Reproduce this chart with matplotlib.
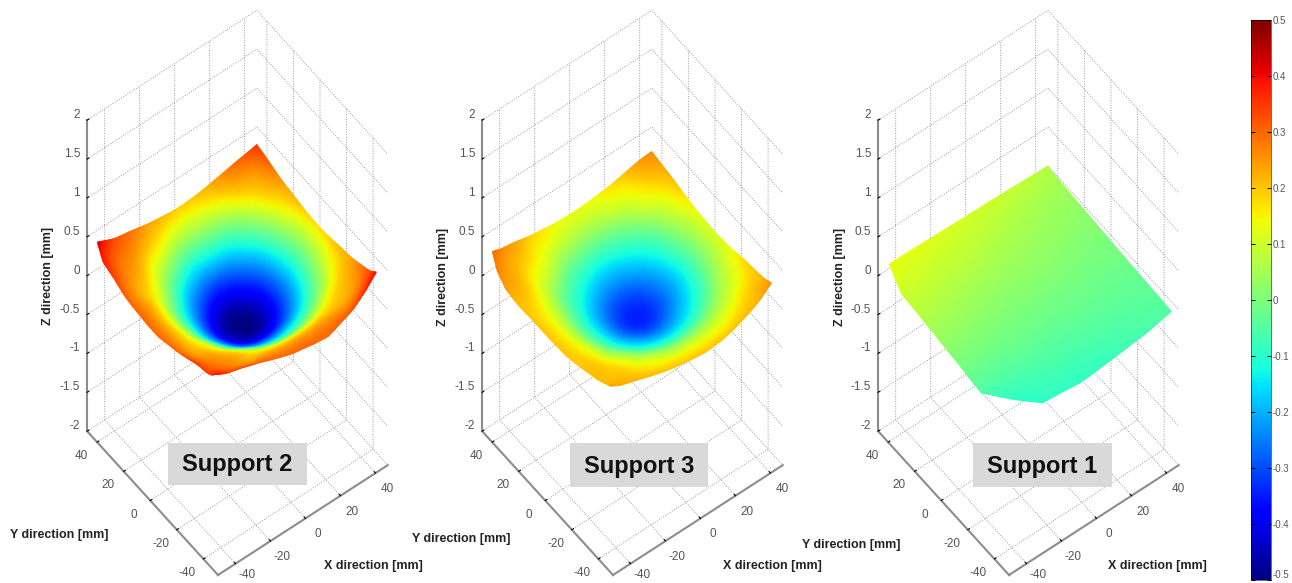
import matplotlib
matplotlib.use('Agg')
import matplotlib.pyplot as plt
import numpy as np
from matplotlib.cm import ScalarMappable
from matplotlib.colors import Normalize
from matplotlib.patches import Rectangle
from matplotlib.tri import Triangulation, UniformTriRefiner
from mpl_toolkits.mplot3d import proj3d

plt.rcParams['font.family'] = ['Liberation Sans', 'DejaVu Sans']

W, H = 1292, 583

# measuring grid [mm] of the two bowls, the first row/column is the sheet edge (edge arrays below)
grid_mm = [-46, -42, -36, -27, -18, -9, 0, 9, 18, 27, 36, 45]

# deflection [mm], rows run from the front edge to y=45, columns from the left edge to x=45
support2_z = [
    [.39, .36, .34, .32, .30, .30, .30, .30, .31, .33, .37, .40],
    [.36, .33, .285, .235, .21, .18, .165, .17, .195, .215, .265, .35],
    [.35, .29, .26, .21, .13, .065, .03, .04, .10, .175, .225, .295],
    [.33, .245, .21, .105, -.015, -.115, -.16, -.14, -.07, .05, .17, .24],
    [.30, .21, .15, 0, -.155, -.275, -.33, -.31, -.215, -.075, .09, .215],
    [.30, .20, .105, -.08, -.25, -.39, -.46, -.44, -.32, -.155, .03, .185],
    [.30, .195, .09, -.10, -.28, -.43, -.495, -.475, -.35, -.18, .005, .175],
    [.30, .21, .115, -.065, -.23, -.37, -.445, -.41, -.30, -.14, .035, .19],
    [.31, .22, .165, .03, -.13, -.24, -.30, -.275, -.185, -.05, .11, .22],
    [.34, .26, .225, .125, .02, -.085, -.115, -.10, -.04, .08, .19, .25],
    [.38, .30, .275, .22, .16, .095, .07, .085, .13, .205, .24, .305],
    [.42, .38, .325, .285, .24, .21, .19, .20, .23, .27, .31, .35],
]
support2_left_edge = [-46, -47, -48, -49.5, -50.5, -52, -52, -51.5, -51, -50, -49.5, -46]
support2_front_edge = [-44, -45, -46, -48, -50.5, -53.5, -55, -56, -54, -52, -49, -45]

support3_z = [
    [.24, .23, .22, .21, .20, .20, .20, .20, .20, .21, .22, .26],
    [.22, .21, .20, .16, .125, .095, .085, .09, .115, .155, .20, .235],
    [.21, .20, .18, .12, .07, .02, 0, .015, .055, .105, .165, .205],
    [.20, .18, .125, .05, -.04, -.105, -.13, -.115, -.06, .03, .11, .185],
    [.20, .15, .085, -.035, -.135, -.205, -.24, -.215, -.15, -.055, .065, .15],
    [.20, .13, .05, -.08, -.19, -.28, -.325, -.295, -.21, -.105, .025, .125],
    [.20, .125, .045, -.09, -.20, -.30, -.345, -.315, -.23, -.12, .015, .12],
    [.20, .135, .065, -.06, -.165, -.25, -.29, -.265, -.19, -.085, .035, .135],
    [.21, .165, .10, -.01, -.095, -.16, -.19, -.17, -.115, -.03, .085, .16],
    [.24, .20, .145, .085, -.005, -.05, -.075, -.06, -.015, .07, .135, .20],
    [.27, .225, .20, .15, .105, .07, .055, .065, .10, .14, .195, .23],
    [.30, .27, .245, .20, .165, .14, .13, .14, .16, .195, .24, .26],
]
support3_left_edge = [-46, -46, -48, -49.5, -51, -51.4, -51.5, -51.5, -52, -52, -50, -46]
support3_front_edge = [-44, -46, -47.5, -50, -52, -53.5, -54.5, -54, -52.5, -50.5, -48, -45]

# almost flat, coarser grid is enough
support1_x = [-50, -30, -10, 10, 30, 45]
support1_y = [-50, -30, -10, 10, 30, 45]
support1_z = [
    [-.09, -.095, -.09, -.08, -.06, -.05],
    [-.05, -.05, -.045, -.04, -.035, -.03],
    [.005, 0, -.005, -.005, -.01, -.01],
    [.055, .045, .035, .03, .02, .015],
    [.10, .09, .08, .065, .05, .04],
    [.13, .125, .11, .10, .085, .07],
]
support1_left_edge = [-40, -50, -50, -50, -50, -45.5]
support1_front_edge = [-40, -50, -52, -51, -50, -48]

panel_names = ['Support 2', 'Support 3', 'Support 1']
xy_ticks = [-40, -20, 0, 20, 40]
z_ticks = [-2, -1.5, -1, -0.5, 0, 0.5, 1, 1.5, 2]
z_tick_labels = ['-2', '-1.5', '-1', '-0.5', '0', '0.5', '1', '1.5', '2']
bar_ticks = [-0.5, -0.4, -0.3, -0.2, -0.1, 0, 0.1, 0.2, 0.3, 0.4, 0.5]
bar_tick_labels = ['-0.5', '-0.4', '-0.3', '-0.2', '-0.1', '0', '0.1', '0.2', '0.3', '0.4', '0.5']

x_lim = (-50, 47)
y_lim = (-51, 47.5)
z_lim = (-2, 2)

fig = plt.figure(figsize=(W / 100, H / 100), dpi=100, facecolor='white')


def project(ax, x, y, z):
    px, py, depth = proj3d.proj_transform(np.ravel(x), np.ravel(y), np.ravel(z), ax.get_proj())
    pts = ax.transData.transform(np.column_stack([px, py]))
    return pts[:, 0], H - pts[:, 1], depth


def make_box(front_x, front_y, span_z):
    # front_x, front_y: pixel of the front floor corner, span_z: pixels from z=-2 to z=2
    ax = fig.add_axes([0, 0, 0.3, 0.3], projection='3d', proj_type='ortho')
    ax.set_xlim(*x_lim)
    ax.set_ylim(*y_lim)
    ax.set_zlim(*z_lim)
    ax.set_box_aspect((214, 215, 579))
    ax.view_init(elev=57.5, azim=-127.5)
    ax.patch.set_alpha(0)

    side, cx, cy = 400.0, 200.0, 300.0
    for _ in range(4):
        ax.set_position([(cx - side / 2) / W, (cy - side / 2) / H, side / W, side / H])
        ax.apply_aspect()
        sx, sy, _d = project(ax, [x_lim[0]] * 2, [y_lim[0]] * 2, z_lim)
        side *= span_z / (sy[0] - sy[1])
        ax.set_position([(cx - side / 2) / W, (cy - side / 2) / H, side / W, side / H])
        ax.apply_aspect()
        sx, sy, _d = project(ax, x_lim[0], y_lim[0], z_lim[0])
        cx += front_x - sx[0]
        cy -= front_y - sy[0]
    ax.set_position([(cx - side / 2) / W, (cy - side / 2) / H, side / W, side / H])
    ax.apply_aspect()

    ax.set_xticks(xy_ticks)
    ax.set_yticks(xy_ticks)
    ax.set_zticks(z_ticks)
    ax.set_xticklabels([])
    ax.set_yticklabels([])
    ax.set_zticklabels([])
    for axis in (ax.xaxis, ax.yaxis, ax.zaxis):
        axis.set_pane_color((1, 1, 1, 0))
        axis.pane.set_edgecolor('#aaaaaa')
        axis.pane.set_linestyle(':')
        axis.pane.set_linewidth(0.8)
        axis._axinfo['grid'].update(color='#999999', linewidth=0.7, linestyle=(0, (1, 1.6)))
        axis._axinfo['axisline']['color'] = '#8c8c8c'
        axis.line.set_color('#8c8c8c')
        axis.line.set_linewidth(1.5)
        axis._axinfo['tick'].update(color='#808080', inward_factor=0, outward_factor=0.12)
    return ax


# box per panel: front floor corner pixel
box_corners = [(218, 575), (613, 575), (1009, 575)]
surfaces = [
    (grid_mm, grid_mm, support2_z, support2_left_edge, support2_front_edge),
    (grid_mm, grid_mm, support3_z, support3_left_edge, support3_front_edge),
    (support1_x, support1_y, support1_z, support1_left_edge, support1_front_edge),
]
axes3d = [make_box(fx, fy, 311) for fx, fy in box_corners]

# overlay in image pixels, gouraud shading is not available on a 3D axes
ov = fig.add_axes([0, 0, 1, 1], zorder=1)
ov.set_xlim(0, W)
ov.set_ylim(H, 0)
ov.axis('off')

tick_color = '#555555'
for ax, (xs, ys, zs, left_edge, front_edge) in zip(axes3d, surfaces):
    X, Y = np.meshgrid(np.array(xs, float), np.array(ys, float))
    X[:, 0] = left_edge
    Y[0, :] = front_edge
    Z = np.array(zs)

    ny, nx = Z.shape
    tris = []
    for j in range(ny - 1):
        for i in range(nx - 1):
            a, b = j * nx + i, j * nx + i + 1
            c, d = a + nx, b + nx
            tris += [[a, b, d], [a, d, c]]
    coarse = Triangulation(X.ravel(), Y.ravel(), tris)
    fine, z_fine = UniformTriRefiner(coarse).refine_field(Z.ravel(), subdiv=3)
    sx, sy, depth = project(ax, fine.x, fine.y, z_fine)
    # far triangles first, the front rim has to lie on top
    order = np.argsort(-depth[fine.triangles].mean(axis=1))
    ov.tripcolor(Triangulation(sx, sy, fine.triangles[order]), z_fine, shading='gouraud',
                 cmap='jet', vmin=-0.5, vmax=0.5)

    # tick labels
    sx, sy, _d = project(ax, [x_lim[0]] * len(z_ticks), [y_lim[1]] * len(z_ticks), z_ticks)
    for px, py, lab in zip(sx, sy, z_tick_labels):
        ov.text(px - 7, py - 5, lab, ha='right', va='center', fontsize=8.5, color=tick_color)
    sx, sy, _d = project(ax, [x_lim[0]] * 5, xy_ticks, [z_lim[0]] * 5)
    for px, py, val in zip(sx, sy, xy_ticks):
        ov.text(px - 16, min(py + 14, 575), str(val), ha='center', va='center', fontsize=8.5, color=tick_color)
    sx, sy, _d = project(ax, xy_ticks, [y_lim[0]] * 5, [z_lim[0]] * 5)
    for px, py, val in zip(sx, sy, xy_ticks):
        ov.text(px + 12, min(py + 16, 575), str(val), ha='center', va='center', fontsize=8.5, color=tick_color)

label_boxes = [(168, 443, 139, 42), (570, 443, 138, 44), (973, 443, 139, 44)]
for name, (bx, by, bw, bh) in zip(panel_names, label_boxes):
    ov.add_patch(Rectangle((bx, by), bw, bh, facecolor='#d9d9d9', edgecolor='none', zorder=5))
    ov.text(bx + bw / 2, by + bh / 2 + 1, name, ha='center', va='center', fontsize=17,
            fontweight='bold', color='#111111', zorder=6)

label_color = '#222222'
for px, py in [(48, 276), (443, 277), (840, 277)]:
    ov.text(px, py, 'Z direction [mm]', rotation=90, ha='center', va='center', fontsize=9,
            fontweight='bold', color=label_color)
for px, py in [(59, 535), (461, 539), (851, 545)]:
    ov.text(px, py, 'Y direction [mm]', ha='center', va='center', fontsize=9,
            fontweight='bold', color=label_color)
for px, py in [(373, 566), (772, 566), (1157, 566)]:
    ov.text(px, py, 'X direction [mm]', ha='center', va='center', fontsize=9,
            fontweight='bold', color=label_color)

cax = fig.add_axes([1251 / W, 1 - 580 / H, 20 / W, 560 / H], zorder=2)
cb = fig.colorbar(ScalarMappable(Normalize(-0.5, 0.5), 'jet'), cax=cax)
cb.set_ticks(bar_ticks)
cb.set_ticklabels(bar_tick_labels)
cax.tick_params(left=True, right=True, direction='in', length=3, width=0.7,
                labelsize=7, labelcolor=tick_color, pad=1)
cax.get_yticklabels()[0].set_va('bottom')
cb.outline.set_linewidth(0.4)

fig.savefig('out.png', dpi=100)
